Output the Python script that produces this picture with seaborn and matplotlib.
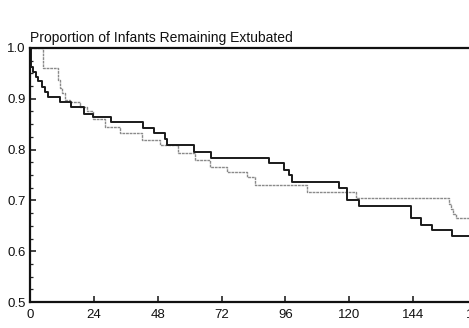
import numpy as np
import pandas as pd
import matplotlib
matplotlib.use("Agg")
import matplotlib.pyplot as plt
from matplotlib.ticker import MultipleLocator
import seaborn as sns

sns.set_theme(style="ticks")
plt.rcParams["font.family"] = ["Liberation Sans", "DejaVu Sans"]

# step curves (hours, proportion extubated)
hours_dark = [0, 0.25, 1.25, 2.1, 3.1, 4.4, 5.6, 6.9, 11.25, 15.4, 20.4, 23.7,
              30.6, 42.5, 46.5, 50.9, 51.4, 61.5, 67.9, 90, 95.6, 97.5, 98.6,
              116.2, 119.2, 123.7, 143.2, 147, 151.1, 158.6, 168]
prop_dark = [1.0, 0.963, 0.953, 0.942, 0.934, 0.924, 0.914, 0.904, 0.894, 0.883,
             0.869, 0.865, 0.854, 0.843, 0.833, 0.821, 0.809, 0.796, 0.783, 0.773,
             0.760, 0.750, 0.737, 0.724, 0.701, 0.689, 0.665, 0.652, 0.642, 0.630,
             0.630]

hours_light = [0, 5.0, 10.6, 11.25, 11.9, 13.1, 15, 18.75, 21.4, 23.6, 28.1, 33.7,
               42, 48.7, 55.5, 61.9, 67.5, 73.9, 81.7, 84.4, 104.2, 122.6, 157.5,
               158.2, 159, 160, 168]
prop_light = [1.0, 0.960, 0.937, 0.921, 0.911, 0.898, 0.894, 0.884, 0.875, 0.860,
              0.845, 0.832, 0.819, 0.809, 0.793, 0.780, 0.766, 0.756, 0.747, 0.730,
              0.717, 0.704, 0.693, 0.683, 0.673, 0.665, 0.665]

x_ticks = [0, 24, 48, 72, 96, 120, 144, 168]

df_dark = pd.DataFrame({"hours": hours_dark, "prop": prop_dark})
df_light = pd.DataFrame({"hours": hours_light, "prop": prop_light})

fig = plt.figure(figsize=(4.69, 3.28), dpi=100)
ax = fig.add_axes([0.064, 0.079, 0.953, 0.775])

sns.lineplot(data=df_light, x="hours", y="prop", drawstyle="steps-post",
             color="#8a8a8a", linewidth=1.0, linestyle=(0, (2, 0.6)), ax=ax)
sns.lineplot(data=df_dark, x="hours", y="prop", drawstyle="steps-post",
             color="#1a1a1a", linewidth=1.4, ax=ax)

ax.set_xlim(0, 168)
ax.set_ylim(0.5, 1.0)
ax.set_xticks(x_ticks)
ax.set_yticks([0.5, 0.6, 0.7, 0.8, 0.9, 1.0])
ax.yaxis.set_minor_locator(MultipleLocator(0.025))
ax.set_yticklabels(["0.5", "0.6", "0.7", "0.8", "0.9", "1.0"])

for s in ["left", "bottom", "top", "right"]:
    ax.spines[s].set_linewidth(1.6)
    ax.spines[s].set_color("#111111")

ax.tick_params(axis="both", which="major", direction="in", length=4, width=1.1,
               labelsize=9.5, colors="#111111", pad=3)
ax.tick_params(axis="x", which="major", pad=5, top=False)
ax.tick_params(axis="y", which="minor", direction="in", length=2.5, width=0.9,
               right=False)
ax.tick_params(axis="y", right=False)

ax.set_title("Proportion of Infants Remaining Extubated", loc="left",
             fontsize=10, pad=4, color="#111111")
ax.set_xlabel("")
ax.set_ylabel("")

fig.savefig("out.png", dpi=100)
